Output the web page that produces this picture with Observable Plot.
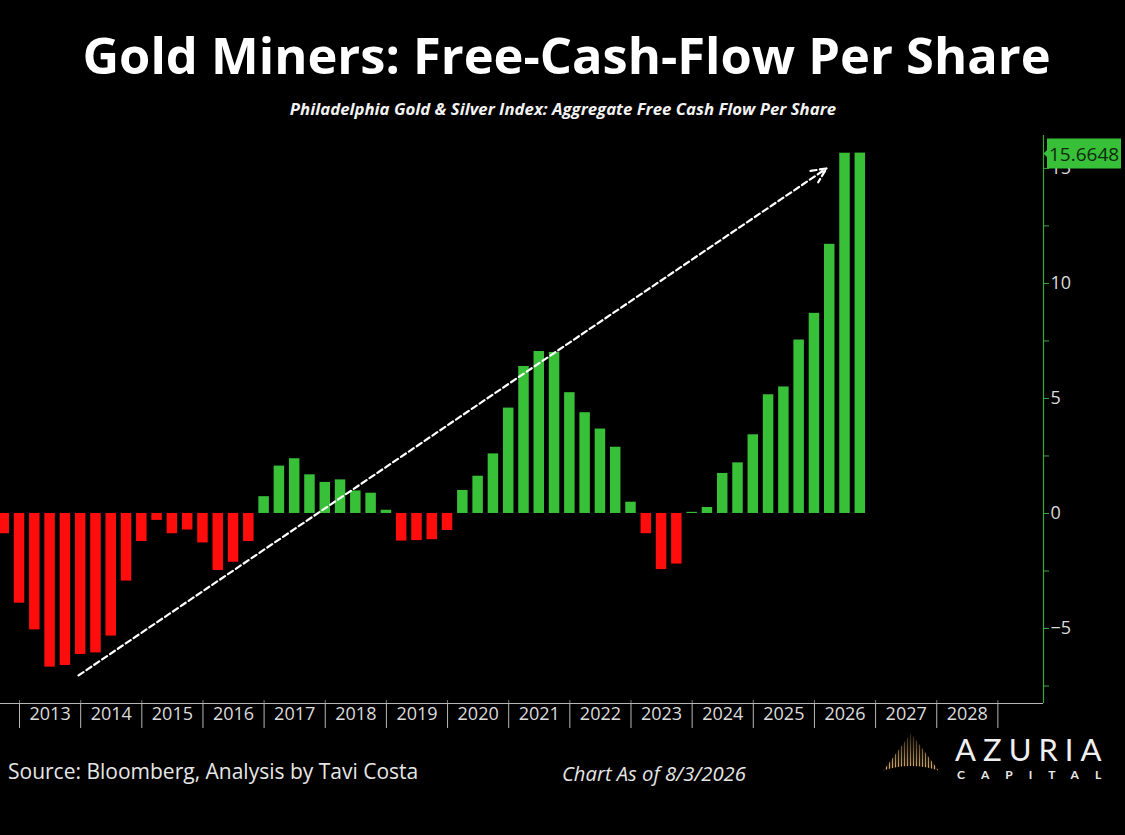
<!DOCTYPE html>
<html><head><meta charset="utf-8">
<script src="https://cdn.jsdelivr.net/npm/d3@7"></script>
<script src="https://cdn.jsdelivr.net/npm/@observablehq/plot@0.6"></script>
<style>
html,body{margin:0;padding:0;background:#000;}
body{width:1125px;height:835px;position:relative;overflow:hidden;font-family:"Open Sans",sans-serif;color:#fff;}
.abs{position:absolute;white-space:nowrap;line-height:1;}
#title{left:0;width:1133px;text-align:center;top:30px;font-size:50.6px;font-weight:700;color:#fff;}
#subtitle{left:0;width:1126px;text-align:center;top:101px;font-size:16.8px;font-weight:700;font-style:italic;color:#f2f2f2;}
#chart{position:absolute;left:0;top:130px;}
#source{left:8px;top:761px;font-size:21px;color:#e6e6e6;}
#asof{left:562px;top:763px;font-size:20.2px;font-style:italic;color:#e6e6e6;}
#azuria{left:955px;top:734px;font-family:Lato,sans-serif;font-size:31px;letter-spacing:7px;color:#f0f0f0;}
#capital{left:957px;top:769px;font-family:Lato,sans-serif;font-weight:700;font-size:12px;letter-spacing:16px;color:#e8e8e8;}
#logo{position:absolute;left:880px;top:733px;width:62px;height:44px;
  clip-path:polygon(50% 0,100% 96%,0 96%);
  background:repeating-linear-gradient(90deg,#d9b47a 0 1px,#2a1d0c 1px 3px);
  -webkit-mask-image:linear-gradient(180deg,rgba(0,0,0,0.15),rgba(0,0,0,1) 85%);
  mask-image:linear-gradient(180deg,rgba(0,0,0,0.15),rgba(0,0,0,1) 85%);}
#arc{position:absolute;left:872px;top:766px;width:78px;height:30px;border-radius:50%;background:#000;}
g[aria-label="tip"] text{fill:#0c2a0c;}
</style></head>
<body>
<div id="title" class="abs">Gold Miners: Free-Cash-Flow Per Share</div>
<div id="subtitle" class="abs">Philadelphia Gold &amp; Silver Index: Aggregate Free Cash Flow Per Share</div>
<div id="chart"></div>
<div id="source" class="abs">Source: Bloomberg, Analysis by Tavi Costa</div>
<div id="asof" class="abs">Chart As of 8/3/2026</div>
<div id="logo"></div><div id="arc"></div>
<div id="azuria" class="abs">AZURIA</div>
<div id="capital" class="abs">CAPITAL</div>
<script>
// Quarter (plotted at quarter end) and aggregate free cash flow per share
const quarters = [
  "2012Q3","2012Q4",
  "2013Q1","2013Q2","2013Q3","2013Q4",
  "2014Q1","2014Q2","2014Q3","2014Q4",
  "2015Q1","2015Q2","2015Q3","2015Q4",
  "2016Q1","2016Q2","2016Q3","2016Q4",
  "2017Q1","2017Q2","2017Q3","2017Q4",
  "2018Q1","2018Q2","2018Q3","2018Q4",
  "2019Q1","2019Q2","2019Q3","2019Q4",
  "2020Q1","2020Q2","2020Q3","2020Q4",
  "2021Q1","2021Q2","2021Q3","2021Q4",
  "2022Q1","2022Q2","2022Q3","2022Q4",
  "2023Q1","2023Q2","2023Q3","2023Q4",
  "2024Q1","2024Q2","2024Q3","2024Q4",
  "2025Q1","2025Q2","2025Q3","2025Q4",
  "2026Q1","2026Q2","2026Q3"
];
const values = [
  -0.88, -3.90,
  -5.06, -6.68, -6.61, -6.13,
  -6.06, -5.33, -2.94, -1.22,
  -0.30, -0.88, -0.72, -1.28,
  -2.48, -2.12, -1.22, 0.73,
  2.06, 2.38, 1.68, 1.35,
  1.46, 0.98, 0.88, 0.14,
  -1.20, -1.18, -1.14, -0.74,
  1.00, 1.62, 2.59, 4.58,
  6.39, 7.04, 7.00, 5.25,
  4.38, 3.67, 2.88, 0.49,
  -0.88, -2.44, -2.20, 0.05,
  0.26, 1.74, 2.20, 3.42,
  5.16, 5.50, 7.54, 8.70,
  11.70, 15.66, 15.6648
];
const yearLabels = [2013,2014,2015,2016,2017,2018,2019,2020,2021,2022,2023,2024,2025,2026,2027,2028];
const yTickLabels = [-5, 0, 5, 10, 15];
const yMinorTicks = [-7.5, -5, -2.5, 0, 2.5, 5, 7.5, 10, 12.5, 15];
const lastValueLabel = "15.6648";
const trendFrom = {x: 2013.965, y: -7.04};
const trendTo = {x: 2026.197, y: 15.0};
const xDomain = [2012.689, 2029.746];
const yDomain = [-8.26, 16.43];

const GREEN = "#38c038";
const RED = "#ff0d0d";
const AXIS_GREEN = "#3aa83a";
const GRAY = "#b8b8b8";

const data = quarters.map((q, i) => {
  const yr = +q.slice(0, 4), qn = +q.slice(5);
  const t = yr + qn / 4;
  return {q, t, x1: t - 0.125, x2: t + 0.125, v: values[i]};
});
const boundaries = yearLabels.concat([yearLabels[yearLabels.length - 1] + 1]);
const centers = yearLabels.map(y => y + 0.5);

const chart = Plot.plot({
  width: 1125,
  height: 600,
  marginLeft: 0,
  marginRight: 82,
  marginTop: 5,
  marginBottom: 27,
  style: {background: "#000", color: "#ddd", fontFamily: "Open Sans, sans-serif", fontSize: "18px", overflow: "visible"},
  x: {type: "linear", domain: xDomain},
  y: {domain: yDomain},
  marks: [
    Plot.rectY(data, {x1: "x1", x2: "x2", y: "v", fill: d => d.v < 0 ? RED : GREEN, insetLeft: 2.4, insetRight: 2.4}),
    Plot.arrow([{x1: trendFrom.x, y1: trendFrom.y, x2: trendTo.x, y2: trendTo.y}], {
      x1: "x1", y1: "y1", x2: "x2", y2: "y2", stroke: "#fff", strokeWidth: 2.2,
      strokeDasharray: "6,3.5", headLength: 11, headAngle: 50
    }),
    Plot.ruleY([yDomain[0]], {stroke: GRAY, strokeWidth: 1.2}),
    Plot.ruleX([xDomain[1]], {stroke: AXIS_GREEN, strokeWidth: 1.2}),
    Plot.axisX({ticks: boundaries, tickSize: 25, stroke: GRAY, fill: "none", label: null}),
    Plot.axisX({ticks: boundaries, anchor: "bottom", tickSize: -3, stroke: "#777", fill: "none", label: null}),
    Plot.axisX({ticks: centers, tickSize: 0, tickPadding: 4, tickFormat: d => String(Math.round(d - 0.5)), fontSize: 18, color: "#dcdcdc", label: null}),
    Plot.axisY({anchor: "right", ticks: yMinorTicks, tickSize: 5, stroke: AXIS_GREEN, fill: "none", label: null}),
    Plot.axisY({anchor: "right", ticks: yTickLabels, tickSize: 0, tickPadding: 7, fontSize: 18, color: "#dcdcdc", label: null}),
    Plot.tip([{x: xDomain[1], y: values[values.length - 1]}], {
      x: "x", y: "y", anchor: "left", title: () => lastValueLabel,
      fill: GREEN, stroke: "none", fontSize: 19, fontFamily: "Open Sans, sans-serif",
      textPadding: 2, pointerSize: 7, pathFilter: "none"
    })
  ]
});
document.getElementById("chart").appendChild(chart);
</script>
</body></html>
